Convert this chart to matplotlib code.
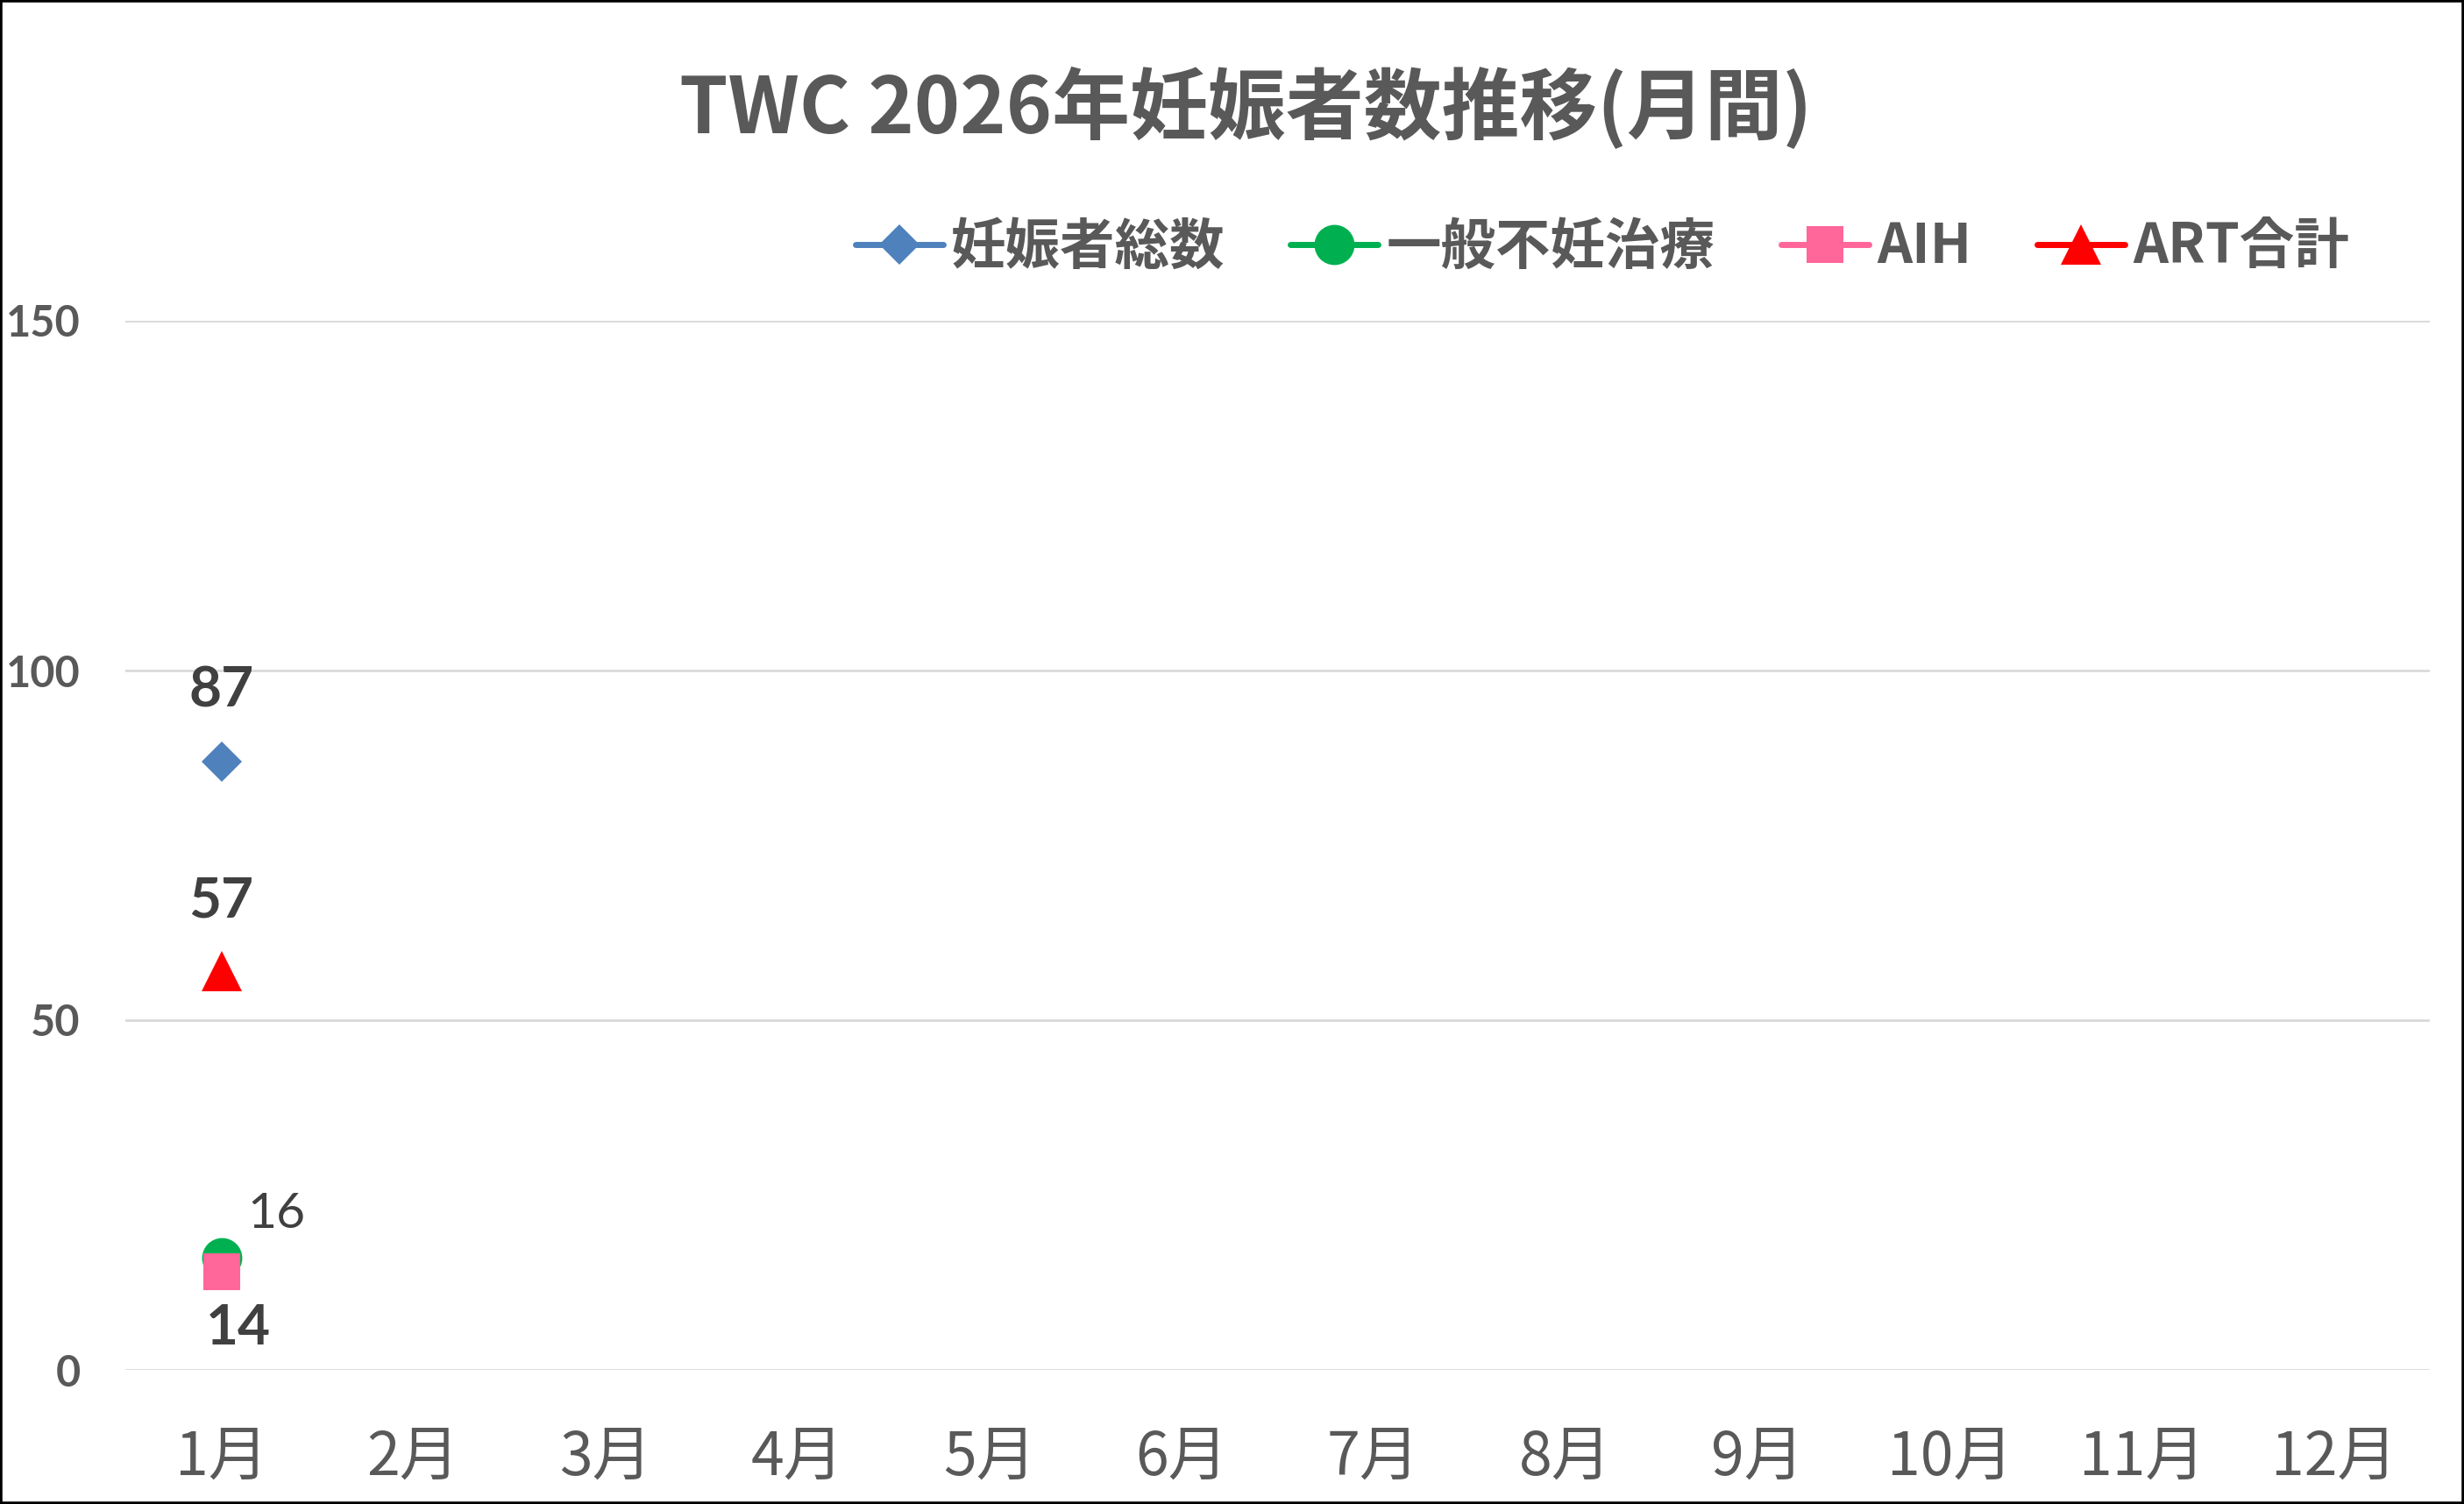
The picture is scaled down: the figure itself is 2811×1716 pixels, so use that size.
import numpy as np
import matplotlib
matplotlib.use('Agg')
import matplotlib.pyplot as plt
from matplotlib.patches import Rectangle

plt.rcParams['font.family'] = ['Noto Sans CJK JP', 'DejaVu Sans']

months = ['1月', '2月', '3月', '4月', '5月', '6月', '7月', '8月', '9月', '10月', '11月', '12月']
nan = np.nan
total = [87, nan, nan, nan, nan, nan, nan, nan, nan, nan, nan, nan]
general = [16, nan, nan, nan, nan, nan, nan, nan, nan, nan, nan, nan]
aih = [14, nan, nan, nan, nan, nan, nan, nan, nan, nan, nan, nan]
art = [57, nan, nan, nan, nan, nan, nan, nan, nan, nan, nan, nan]
names = ['妊娠者総数', '一般不妊治療', 'AIH', 'ART合計']
yticks = [0, 50, 100, 150]

W, H = 2811, 1716
fig = plt.figure(figsize=(W / 100, H / 100), dpi=100)
ax = fig.add_axes([143 / W, 1 - 1563 / H, (2772 - 143) / W, (1563 - 366) / H])

x = np.arange(len(months))
styles = [
    (total, '#4F81BD', 'D', 23),
    (general, '#00B050', 'o', 33),
    (aih, '#FF6699', 's', 30),
    (art, '#FF0000', '^', 33),
]
for (vals, col, mk, ms), name in zip(styles, names):
    ax.plot(x, vals, color=col, marker=mk, markersize=ms, lw=5, label=name,
            markeredgewidth=0, solid_capstyle='round')

# data labels
lab_col = '#404040'
ax.annotate(str(total[0]), (0, total[0]), xytext=(0, 58), textcoords='offset points',
            ha='center', va='center', fontsize=46, fontweight='bold', color=lab_col, family='Lato')
ax.annotate(str(art[0]), (0, art[0]), xytext=(0, 58), textcoords='offset points',
            ha='center', va='center', fontsize=46, fontweight='bold', color=lab_col, family='Lato')
ax.annotate(str(general[0]), (0, general[0]), xytext=(45, 36), textcoords='offset points',
            ha='center', va='center', fontsize=41, color=lab_col, family='Lato')
ax.annotate(str(aih[0]), (0, aih[0]), xytext=(14, -46), textcoords='offset points',
            ha='center', va='center', fontsize=46, fontweight='bold', color=lab_col, family='Lato')

ax.set_xlim(-0.5, len(months) - 0.5)
ax.set_ylim(0, 150)
ax.set_yticks(yticks, [str(v) for v in yticks], family='Lato', fontweight='bold',
              fontsize=35, color='#595959')
ax.set_xticks(x, months, fontsize=49, color='#595959')
ax.tick_params(axis='y', length=0, pad=37)
ax.tick_params(axis='x', length=0, pad=48)
ax.grid(axis='y', color='#D9D9D9', lw=2)
ax.set_axisbelow(True)
for s in ax.spines.values():
    s.set_visible(False)

fig.text(1421 / W, 1 - 124 / H, 'TWC 2026年妊娠者数推移(月間)', ha='center', va='center',
         fontsize=64, fontweight='bold', color='#595959')

leg = fig.legend(loc='center', bbox_to_anchor=(1828 / W, 1 - 282 / H), ncol=4, frameon=False,
                 prop={'size': 45, 'weight': 'bold'}, handlelength=1.6, handletextpad=0.15,
                 columnspacing=1.2, borderpad=0, markerscale=1.0)
for t in leg.get_texts():
    t.set_color('#595959')

fig.add_artist(Rectangle((0, 0), 1, 1, transform=fig.transFigure, fill=False,
                         edgecolor='black', lw=4))

fig.savefig('out.png', dpi=100)
